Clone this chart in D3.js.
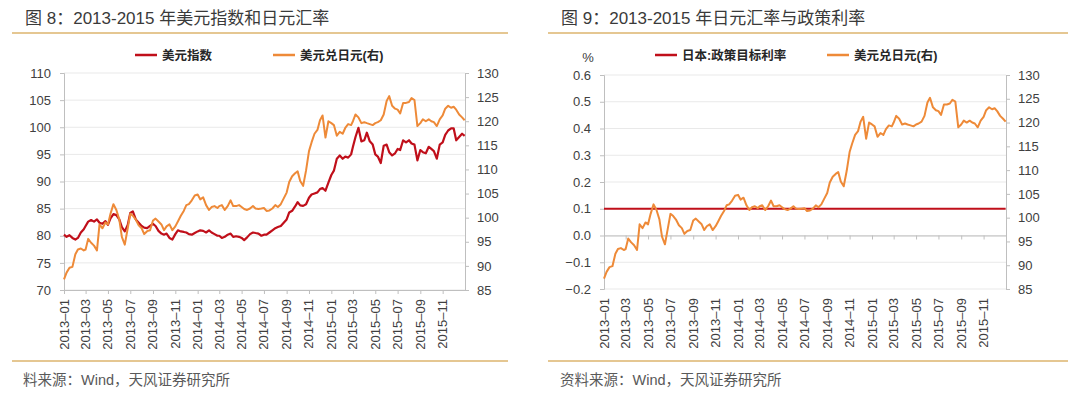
<!DOCTYPE html>
<html>
<head>
<meta charset="utf-8">
<script src="https://d3js.org/d3.v7.min.js"></script>
<style>
body { margin: 0; background: #fff; }
svg text { font-family: "Liberation Sans", Arial, "Noto Sans CJK SC", sans-serif; }
</style>
</head>
<body>
<svg id="chart" width="1080" height="399"></svg>
<script>
// months of the series, each one sampled on four days
var months = ["2013-01","2013-02","2013-03","2013-04","2013-05","2013-06","2013-07","2013-08","2013-09","2013-10","2013-11","2013-12",
              "2014-01","2014-02","2014-03","2014-04","2014-05","2014-06","2014-07","2014-08","2014-09","2014-10","2014-11","2014-12",
              "2015-01","2015-02","2015-03","2015-04","2015-05","2015-06","2015-07","2015-08","2015-09","2015-10","2015-11","2015-12"];
var sampleDays = [1, 8, 16, 24];
var lastDay = "2015-12-31";

// 美元指数 (left axis)
var usdIndex = [
  80.2, 79.8, 80.1, 79.6,   79.3, 79.6, 80.6, 81.2,   81.8, 82.6, 82.9, 82.6,   83.0, 82.4, 82.2, 82.7,
  82.0, 83.2, 84.0, 83.8,   83.0, 81.6, 80.8, 82.0,   84.2, 84.5, 83.0, 82.4,   81.8, 81.5, 81.4, 81.8,
  82.2, 81.8, 80.9, 80.4,   80.2, 80.4, 79.6, 79.3,   80.3, 81.0, 80.8, 80.7,   80.6, 80.3, 80.2, 80.5,
  80.8, 81.0, 80.9, 80.6,   81.0, 80.6, 80.3, 80.0,   80.0, 79.6, 79.8, 80.2,   80.4, 79.8, 79.9, 79.8,
  79.6, 79.2, 79.7, 80.3,   80.6, 80.5, 80.4, 80.0,   80.2, 80.2, 80.6, 81.0,   81.4, 81.6, 81.8, 82.4,
  83.0, 84.3, 84.6, 85.4,   86.2, 85.6, 85.5, 85.8,   87.0, 87.6, 87.8, 88.0,   88.6, 88.8, 88.3, 89.8,
  91.2, 92.0, 94.2, 94.8,   94.2, 94.6, 94.4, 95.0,   96.4, 98.2, 99.9, 97.4,   97.6, 99.0, 97.4, 96.8,
  95.0, 94.6, 93.4, 96.6,   96.8, 95.4, 94.8, 95.2,   96.0, 95.8, 97.6, 97.2,   97.6, 97.0, 96.8, 93.9,
  95.8, 95.4, 95.2, 96.4,   96.0, 95.6, 94.2, 96.8,   97.2, 98.6, 99.4, 99.8,   99.8, 97.6, 98.2, 98.8,
  98.4
];

// 美元兑日元 (right axis)
var usdJpy = [
  87.2, 88.6, 89.6, 89.8,   92.4, 93.4, 93.6, 93.2,   93.4, 95.6, 94.8, 94.2,   93.2, 98.6, 97.8, 99.0,
  98.6, 100.8, 102.8, 101.6, 99.6, 96.0, 94.4, 97.8,  100.8, 100.4, 99.6, 98.4,  97.8, 96.6, 97.2, 97.4,
  99.4, 99.8, 99.2, 98.6,   97.4, 98.2, 98.6, 97.4,   98.2, 99.2, 100.4, 101.4, 102.6, 102.8, 103.6, 104.6,
  104.8, 103.8, 104.2, 102.6, 101.6, 102.2, 102.4, 102.0, 102.4, 102.6, 101.6, 102.4, 103.6, 102.4, 102.4, 102.6,
  102.2, 101.8, 101.6, 101.9, 102.4, 101.9, 101.8, 101.9, 102.0, 101.4, 101.5, 101.9, 102.6, 102.2, 102.8, 104.0,
  105.2, 107.4, 108.6, 109.2, 109.6, 107.6, 106.6, 109.8, 113.8, 115.6, 117.4, 118.2, 120.2, 121.2, 116.6, 120.0,
  119.6, 119.2, 117.0, 117.8, 117.4, 118.6, 119.4, 119.2, 120.0, 121.4, 120.8, 119.6, 119.8, 119.6, 119.4, 119.2,
  119.6, 119.8, 120.2, 121.4, 124.2, 125.2, 123.2, 122.6, 122.4, 121.6, 123.8, 123.8, 124.0, 124.8, 124.4, 119.0,
  119.6, 120.4, 120.0, 120.4, 120.0, 119.8, 119.0, 120.4, 121.2, 122.6, 123.2, 122.8, 123.0, 122.4, 121.4, 120.8,
  120.2
];

// 日本:政策目标利率
var policyDates = ["2013-01-01", "2015-12-31"];
var policyRate = [0.1, 0.1];

var xTickLabels = ["2013-01","2013-03","2013-05","2013-07","2013-09","2013-11","2014-01","2014-03","2014-05",
                   "2014-07","2014-09","2014-11","2015-01","2015-03","2015-05","2015-07","2015-09","2015-11"];
var dxyTicks = [70, 75, 80, 85, 90, 95, 100, 105, 110];
var jpyTicks = [85, 90, 95, 100, 105, 110, 115, 120, 125, 130];
var rateTicks = [-0.2, -0.1, 0.0, 0.1, 0.2, 0.3, 0.4, 0.5, 0.6];

var RED = "#c00f1a", ORANGE = "#ee8a38", GOLD = "#dcb46e";
var parseDay = d3.timeParse("%Y-%m-%d");
var parseMonth = d3.timeParse("%Y-%m");

var dates = [];
months.forEach(function(m) {
  sampleDays.forEach(function(d) { dates.push(parseDay(m + "-" + (d < 10 ? "0" + d : d))); });
});
dates.push(parseDay(lastDay));

var svg = d3.select("#chart");

function drawPanel(p) {
  var g = svg.append("g");
  var x = d3.scaleTime().domain([new Date(2013, 0, 1), new Date(2016, 0, 1)]).range([p.x0, p.x1]);
  var yL = d3.scaleLinear().domain(p.leftDomain).range([p.yBottom, p.yTop]);
  var yR = d3.scaleLinear().domain([85, 130]).range([p.yBottom, p.yTop]);

  // title and rules
  g.append("text").attr("x", p.titleX).attr("y", 24).attr("font-size", 17).attr("fill", "#3a3a3a").text(p.title);
  g.append("line").attr("x1", p.ruleX0).attr("x2", p.ruleX1).attr("y1", 33).attr("y2", 33)
    .attr("stroke", GOLD).attr("stroke-width", 1.5);
  g.append("line").attr("x1", p.ruleX0).attr("x2", p.ruleX1).attr("y1", 361).attr("y2", 361)
    .attr("stroke", GOLD).attr("stroke-width", 1.5);
  g.append("text").attr("x", p.srcX).attr("y", 385).attr("font-size", 14.5).attr("fill", "#595959").text(p.source);

  // grid
  g.append("g").selectAll("line").data(p.leftTicks).enter().append("line")
    .attr("x1", p.x0).attr("x2", p.x1).attr("y1", function(d) { return yL(d); }).attr("y2", function(d) { return yL(d); })
    .attr("stroke", "#e9e9e9").attr("stroke-width", 1);

  // left axis
  var ax = g.append("g").attr("transform", "translate(" + p.x0 + ",0)")
    .call(d3.axisLeft(yL).tickValues(p.leftTicks).tickSize(4).tickPadding(9).tickFormat(p.leftFormat));
  // right axis
  var ar = g.append("g").attr("transform", "translate(" + p.x1 + ",0)")
    .call(d3.axisRight(yR).tickValues(jpyTicks).tickSize(4).tickPadding(8));
  [ax, ar].forEach(function(a) {
    a.selectAll("path, line").attr("stroke", "#bfbfbf");
    a.selectAll("text").attr("font-size", 13).attr("fill", "#404040")
      .style("font-family", "'Liberation Sans', Arial, sans-serif");
  });

  // x axis ticks at p.axisY, labels at the bottom
  var xt = xTickLabels.map(function(s) { return parseMonth(s); });
  var axx = g.append("g").attr("transform", "translate(0," + p.axisY + ")")
    .call(d3.axisBottom(x).tickValues(xt).tickSize(4).tickSizeOuter(0).tickFormat(""));
  axx.selectAll("path, line").attr("stroke", "#bfbfbf");
  g.append("g").selectAll("text").data(xTickLabels).enter().append("text")
    .attr("transform", function(d) { return "translate(" + (x(parseMonth(d)) + 4.5) + "," + (p.yBottom + 9) + ") rotate(-90)"; })
    .attr("text-anchor", "end").attr("font-size", 13).attr("fill", "#404040")
    .style("font-family", "'Liberation Sans', Arial, sans-serif")
    .text(function(d) { return d.replace("-", "\u2013"); });

  // series
  p.series.forEach(function(s) {
    var line = d3.line().x(function(d) { return x(d[0]); }).y(function(d) { return s.scale(d[1]); });
    var pts = s.dates.map(function(d, i) { return [d, s.values[i]]; });
    g.append("path").datum(pts).attr("d", line).attr("fill", "none")
      .attr("stroke", s.color).attr("stroke-width", s.width).attr("stroke-linejoin", "round");
  });

  // legend
  p.legend.forEach(function(l) {
    g.append("line").attr("x1", l.x).attr("x2", l.x + 22).attr("y1", 55).attr("y2", 55)
      .attr("stroke", l.color).attr("stroke-width", 2.5);
    g.append("text").attr("x", l.x + 27).attr("y", 59.5).attr("font-size", 12.5).attr("font-weight", "bold")
      .attr("fill", "#262626").text(l.text);
  });
}

// 图 8
var yL8 = d3.scaleLinear().domain([70, 110]).range([290, 73]);
var yR8 = d3.scaleLinear().domain([85, 130]).range([290, 73]);
drawPanel({
  title: "图 8：2013-2015 年美元指数和日元汇率", titleX: 25, ruleX0: 12, ruleX1: 508,
  source: "料来源：Wind，天风证券研究所", srcX: 23,
  x0: 64, x1: 465, yTop: 73, yBottom: 290, axisY: 290,
  leftDomain: [70, 110], leftTicks: dxyTicks, leftFormat: d3.format("d"),
  series: [
    {dates: dates, values: usdIndex, scale: yL8, color: RED, width: 2.2},
    {dates: dates, values: usdJpy, scale: yR8, color: ORANGE, width: 2}
  ],
  legend: [{x: 135, color: RED, text: "美元指数"}, {x: 273, color: ORANGE, text: "美元兑日元(右)"}]
});

// 图 9
var yL9 = d3.scaleLinear().domain([-0.2, 0.6]).range([289, 75]);
var yR9 = d3.scaleLinear().domain([85, 130]).range([289, 75]);
drawPanel({
  title: "图 9：2013-2015 年日元汇率与政策利率", titleX: 561, ruleX0: 548, ruleX1: 1068,
  source: "资料来源：Wind，天风证券研究所", srcX: 560,
  x0: 604, x1: 1006, yTop: 75, yBottom: 289, axisY: yL9(0),
  leftDomain: [-0.2, 0.6], leftTicks: rateTicks, leftFormat: d3.format(".1f"),
  series: [
    {dates: policyDates.map(parseDay), values: policyRate, scale: yL9, color: RED, width: 2.2},
    {dates: dates, values: usdJpy, scale: yR9, color: ORANGE, width: 2}
  ],
  legend: [{x: 655, color: RED, text: "日本:政策目标利率"}, {x: 827, color: ORANGE, text: "美元兑日元(右)"}]
});
svg.append("text").attr("x", 588).attr("y", 62).attr("text-anchor", "middle").attr("font-size", 13)
  .attr("fill", "#404040").text("%");
</script>
</body>
</html>
